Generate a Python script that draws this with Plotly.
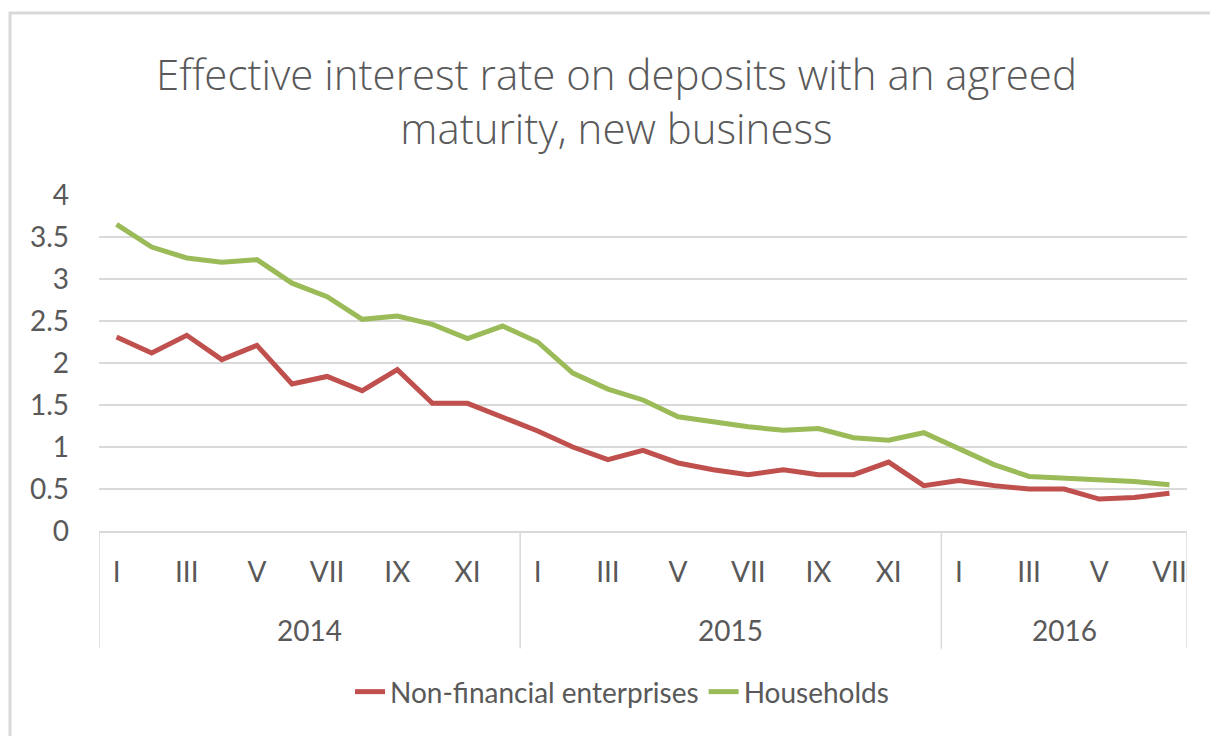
import plotly.graph_objects as go

# Monthly observations, Jan 2014 - Jul 2016
years = ["2014"] * 12 + ["2015"] * 12 + ["2016"] * 7
months = (["I", "II", "III", "IV", "V", "VI", "VII", "VIII", "IX", "X", "XI", "XII"] * 2
          + ["I", "II", "III", "IV", "V", "VI", "VII"])

non_financial = [2.31, 2.12, 2.33, 2.04, 2.21, 1.75, 1.84, 1.67, 1.92, 1.52, 1.52, 1.35,
                 1.19, 1.00, 0.85, 0.96, 0.81, 0.73, 0.67, 0.73, 0.67, 0.67, 0.82, 0.54,
                 0.60, 0.54, 0.50, 0.50, 0.38, 0.40, 0.45]
households = [3.65, 3.38, 3.25, 3.20, 3.23, 2.95, 2.79, 2.52, 2.56, 2.46, 2.29, 2.44,
              2.25, 1.88, 1.69, 1.56, 1.36, 1.30, 1.24, 1.20, 1.22, 1.11, 1.08, 1.17,
              0.98, 0.79, 0.65, 0.63, 0.60, 0.59, 0.55]

RED = "#C0504D"
GREEN = "#9BBB59"
GREY_TXT = "#595959"
GRID = "#D9D9D9"
FONT = "Lato"
TXT = 28

idx = list(range(len(months)))

fig = go.Figure()
fig.add_trace(go.Scatter(x=idx, y=non_financial, mode="lines", name="Non-financial enterprises",
                         line=dict(color=RED, width=5)))
fig.add_trace(go.Scatter(x=idx, y=households, mode="lines", name="Households",
                         line=dict(color=GREEN, width=5)))

# year groups: label at the centre, dividers at the edges
groups = []
for i, yr in enumerate(years):
    if not groups or groups[-1][0] != yr:
        groups.append([yr, i, i])
    else:
        groups[-1][2] = i

shapes = []
annotations = []
for yr, first, last in groups:
    annotations.append(dict(x=(first + last) / 2, y=-0.295, xref="x", yref="paper",
                            text=yr, showarrow=False, yanchor="middle",
                            font=dict(family=FONT, size=TXT, color=GREY_TXT)))
    shapes.append(dict(type="line", xref="x", yref="paper", x0=first - 0.5, x1=first - 0.5,
                       y0=0, y1=-0.35, line=dict(color=GRID, width=1.5)))
shapes.append(dict(type="line", xref="x", yref="paper", x0=groups[-1][2] + 0.5,
                   x1=groups[-1][2] + 0.5, y0=0, y1=-0.35, line=dict(color=GRID, width=1.5)))

# chart border
shapes.append(dict(type="rect", xref="paper", yref="paper", x0=-0.0818, x1=1.06,
                   y0=-0.66, y1=1.5417, line=dict(color=GRID, width=3), layer="below"))

fig.update_layout(
    width=1210, height=736,
    margin=dict(l=99, r=23, t=195, b=205),
    paper_bgcolor="white", plot_bgcolor="white",
    font=dict(family=FONT, color=GREY_TXT),
    title=dict(text="Effective interest rate on deposits with an agreed<br>maturity, new business",
               x=0.4756, xref="paper", xanchor="center",
               y=0.878, yref="container", yanchor="middle",
               font=dict(family="Open Sans", size=42, color=GREY_TXT, weight=300)),
    xaxis=dict(range=[-0.5, len(idx) - 0.5], tickmode="array",
               tickvals=idx[::2], ticktext=months[::2],
               showgrid=False, zeroline=False, showline=True, linecolor=GRID, linewidth=1.5,
               ticks="", ticklabelstandoff=16,
               tickfont=dict(family=FONT, size=TXT, color=GREY_TXT)),
    yaxis=dict(range=[0, 4], dtick=0.5, tick0=0, showgrid=True, gridcolor=GRID, gridwidth=1.5,
               zeroline=False, showline=False, ticks="", ticklabelstandoff=29,
               tickfont=dict(family=FONT, size=TXT, color=GREY_TXT)),
    legend=dict(orientation="h", x=0.4807, xanchor="center", y=-0.479, yanchor="middle",
                font=dict(family=FONT, size=TXT, color=GREY_TXT), itemwidth=30),
    shapes=shapes,
    annotations=annotations,
)

fig.write_html("out.html")
